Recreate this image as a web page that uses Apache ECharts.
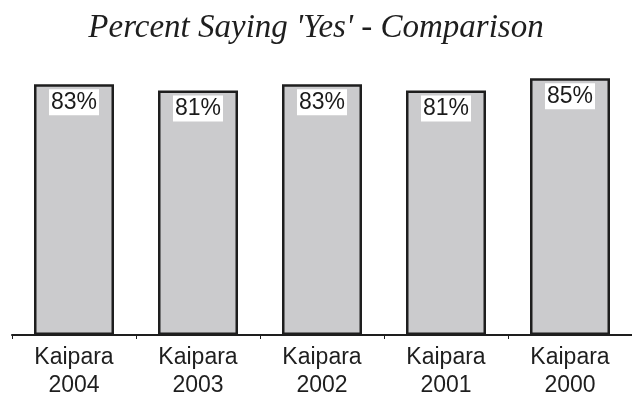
<!DOCTYPE html>
<html>
<head>
<meta charset="utf-8">
<script src="https://cdn.jsdelivr.net/npm/echarts@6/dist/echarts.min.js"></script>
<style>
  html, body { margin: 0; padding: 0; background: #fff; }
  #chart { width: 632px; height: 401px; }
</style>
</head>
<body>
<div id="chart"></div>
<script>
// data
const places = ['Kaipara', 'Kaipara', 'Kaipara', 'Kaipara', 'Kaipara']
const years = ['2004', '2003', '2002', '2001', '2000']
const percentYes = [83, 81, 83, 81, 85]

const categories = places.map((p, i) => p + '\n' + years[i])

const myChart = echarts.init(document.getElementById('chart'))

myChart.setOption({
  animation: false,
  title: {
    text: "Percent Saying 'Yes' - Comparison",
    left: 'center',
    top: 7,
    textStyle: {
      fontFamily: 'Liberation Serif',
      fontStyle: 'italic',
      fontWeight: 'normal',
      fontSize: 33,
      color: '#1e1e1e'
    }
  },
  grid: {
    left: 12,
    right: -4,
    top: 33,
    bottom: 66
  },
  xAxis: {
    type: 'category',
    data: categories,
    axisLine: { lineStyle: { color: '#1e1e1e', width: 2 } },
    axisTick: { show: true, length: 4, lineStyle: { color: '#1e1e1e', width: 1 } },
    axisLabel: {
      margin: 9,
      fontFamily: 'Liberation Sans',
      fontSize: 23,
      lineHeight: 28,
      color: '#1e1e1e'
    }
  },
  yAxis: {
    type: 'value',
    min: 0,
    max: 100,
    show: false,
    splitLine: { show: false }
  },
  series: [
    {
      type: 'bar',
      data: percentYes,
      barWidth: 80,
      itemStyle: {
        color: '#cbcbcd',
        borderColor: '#1e1e1e',
        borderWidth: 2.5
      },
      label: {
        show: true,
        position: 'insideTop',
        distance: 5,
        formatter: '{c}%',
        fontFamily: 'Liberation Sans',
        fontSize: 23,
        color: '#1a1a1a',
        backgroundColor: '#fff',
        padding: [2, 2, 1, 2]
      }
    }
  ]
})
</script>
</body>
</html>
